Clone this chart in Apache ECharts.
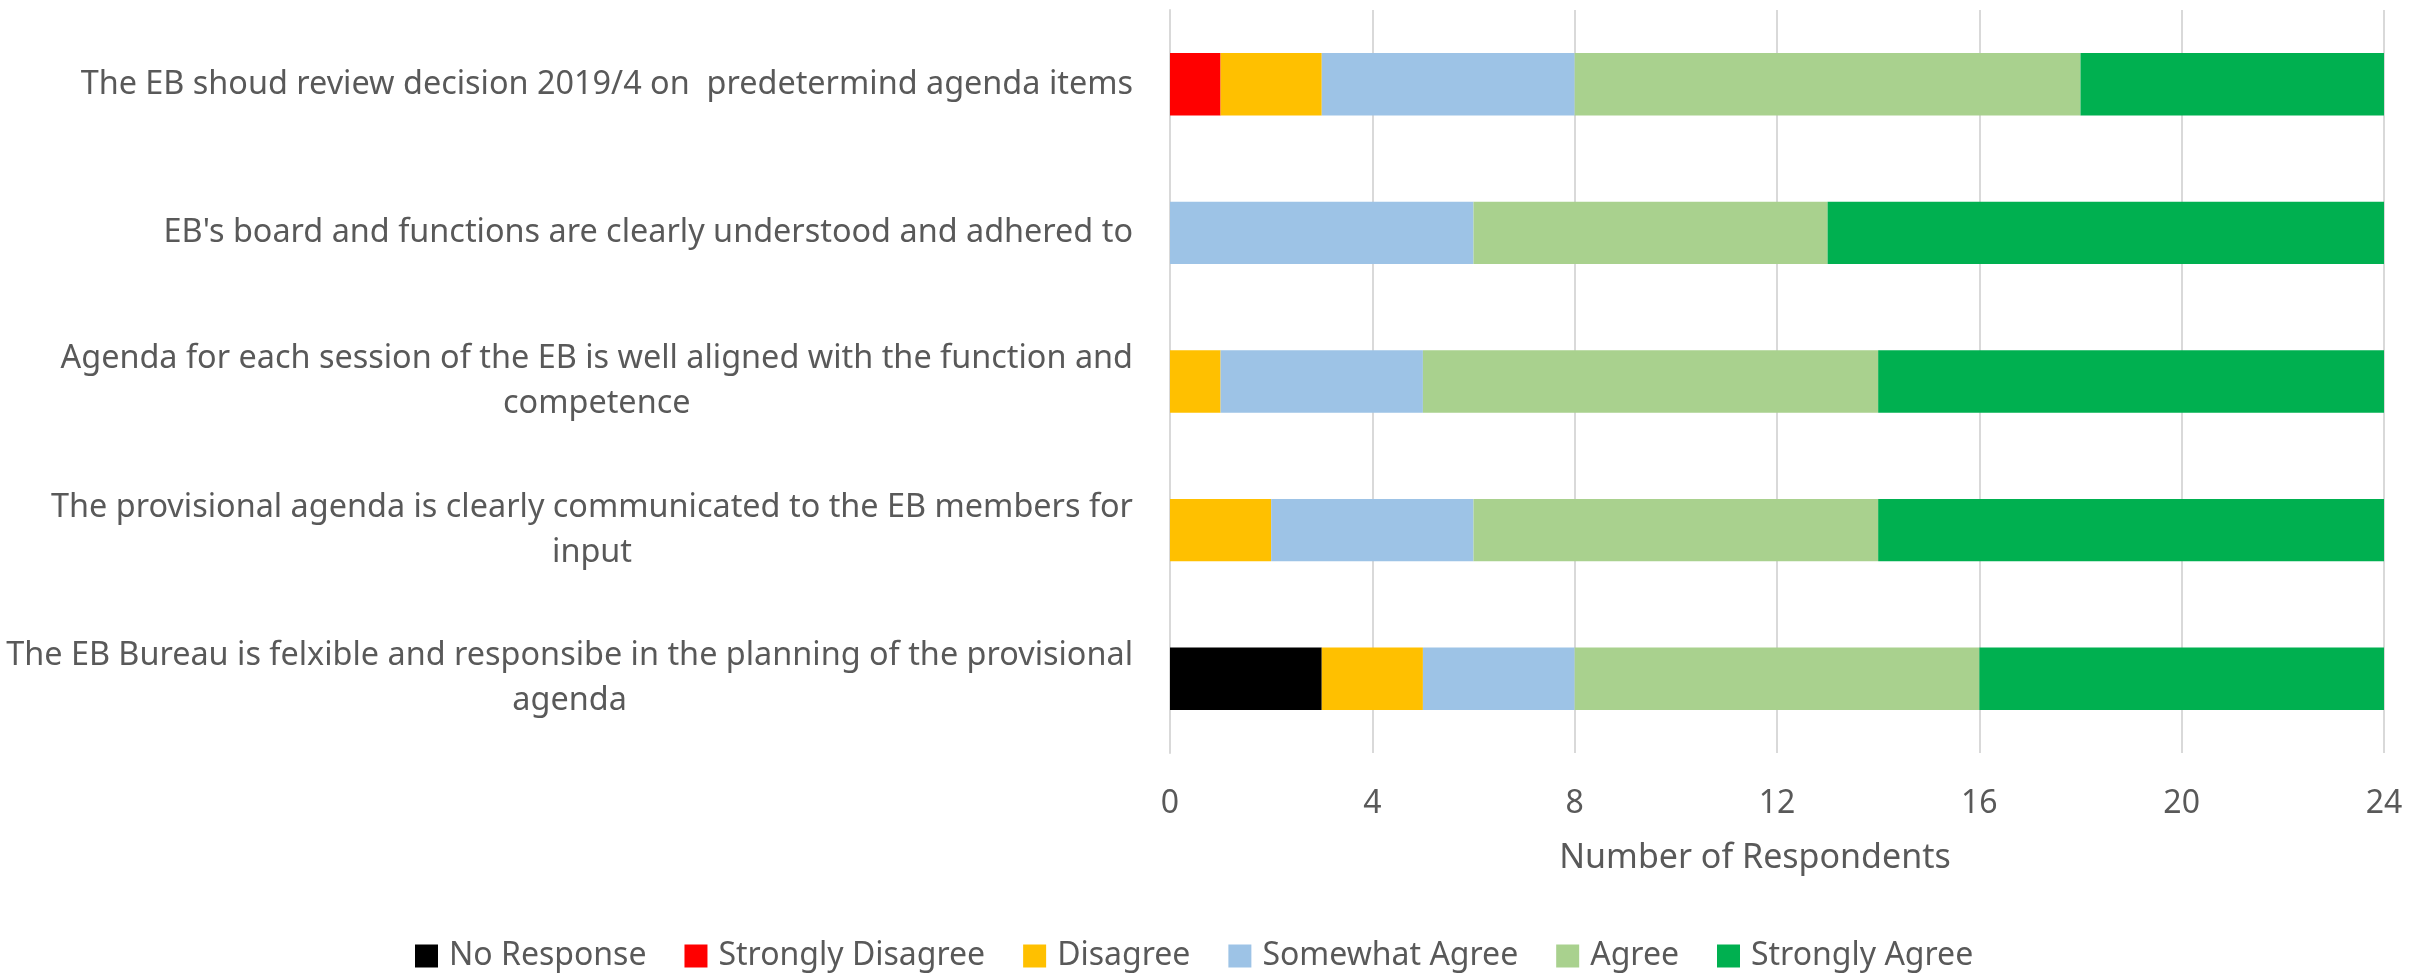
<!DOCTYPE html>
<html>
<head>
<meta charset="utf-8">
<script src="https://cdn.jsdelivr.net/npm/echarts@6/dist/echarts.min.js"></script>
<style>
html,body{margin:0;padding:0;background:#fff;}
#chart{width:2430px;height:973px;}
</style>
</head>
<body>
<div id="chart"></div>
<script>
const categories = [
  "The EB shoud review decision 2019/4 on  predetermind agenda items",
  "EB's board and functions are clearly understood and adhered to",
  "Agenda for each session of the EB is well aligned with the function and\ncompetence",
  "The provisional agenda is clearly communicated to the EB members for\ninput",
  "The EB Bureau is felxible and responsibe in the planning of the provisional\nagenda"
];
const seriesNames = ["No Response","Strongly Disagree","Disagree","Somewhat Agree","Agree","Strongly Agree"];
const noResponse       = [0, 0, 0, 0, 3];
const stronglyDisagree = [1, 0, 0, 0, 0];
const disagree         = [2, 0, 1, 2, 2];
const somewhatAgree    = [5, 6, 4, 4, 3];
const agree            = [10, 7, 9, 8, 8];
const stronglyAgree    = [6, 11, 10, 10, 8];
const xTicks = [0, 4, 8, 12, 16, 20, 24];
const colors = ["#000000","#FF0000","#FFC000","#9DC3E6","#A9D18E","#00B050"];

const allData = [noResponse, stronglyDisagree, disagree, somewhatAgree, agree, stronglyAgree];
const FONT = "Noto Sans";
const FS = 32;
const chart = echarts.init(document.getElementById('chart'));
chart.setOption({
  animation: false,
  textStyle: {fontFamily: FONT},
  grid: {left: 1170, right: 46, top: 10, bottom: 220, containLabel: false},
  legend: {
    left: 410, top: 935,
    itemWidth: 23, itemHeight: 23, itemGap: 38,
    icon: 'rect',
    textStyle: {fontSize: FS, color: '#595959', fontFamily: FONT, padding: [0, 0, 0, 6]},
    data: seriesNames
  },
  xAxis: {
    type: 'value', min: xTicks[0], max: xTicks[xTicks.length-1], interval: 4,
    name: 'Number of Respondents', nameLocation: 'middle', nameGap: 88,
    nameTextStyle: {fontSize: 34, color: '#595959', fontFamily: FONT, padding: [0, 44, 0, 0]},
    axisLine: {show: false}, axisTick: {show: false},
    axisLabel: {fontSize: FS, color: '#595959', margin: 35, fontFamily: FONT},
    splitLine: {show: true, lineStyle: {color: '#D9D9D9', width: 2}}
  },
  yAxis: {
    type: 'category', inverse: true, data: categories,
    axisLine: {show: true, lineStyle: {color: '#D9D9D9', width: 2}},
    axisTick: {show: false},
    axisLabel: {
      margin: 37, fontSize: 32.4, color: '#595959', fontFamily: FONT,
      formatter: function (v) {
        return v.split('\n').map(function (l) { return '{c|' + l + '}'; }).join('\n');
      },
      rich: {c: {align: 'center', fontSize: 32.4, lineHeight: 45, color: '#595959', fontFamily: FONT}}
    }
  },
  series: seriesNames.map(function (n, i) {
    return {
      name: n, type: 'bar', stack: 'total', data: allData[i],
      barWidth: '42%',
      itemStyle: {color: colors[i]}
    };
  })
});
</script>
</body>
</html>
